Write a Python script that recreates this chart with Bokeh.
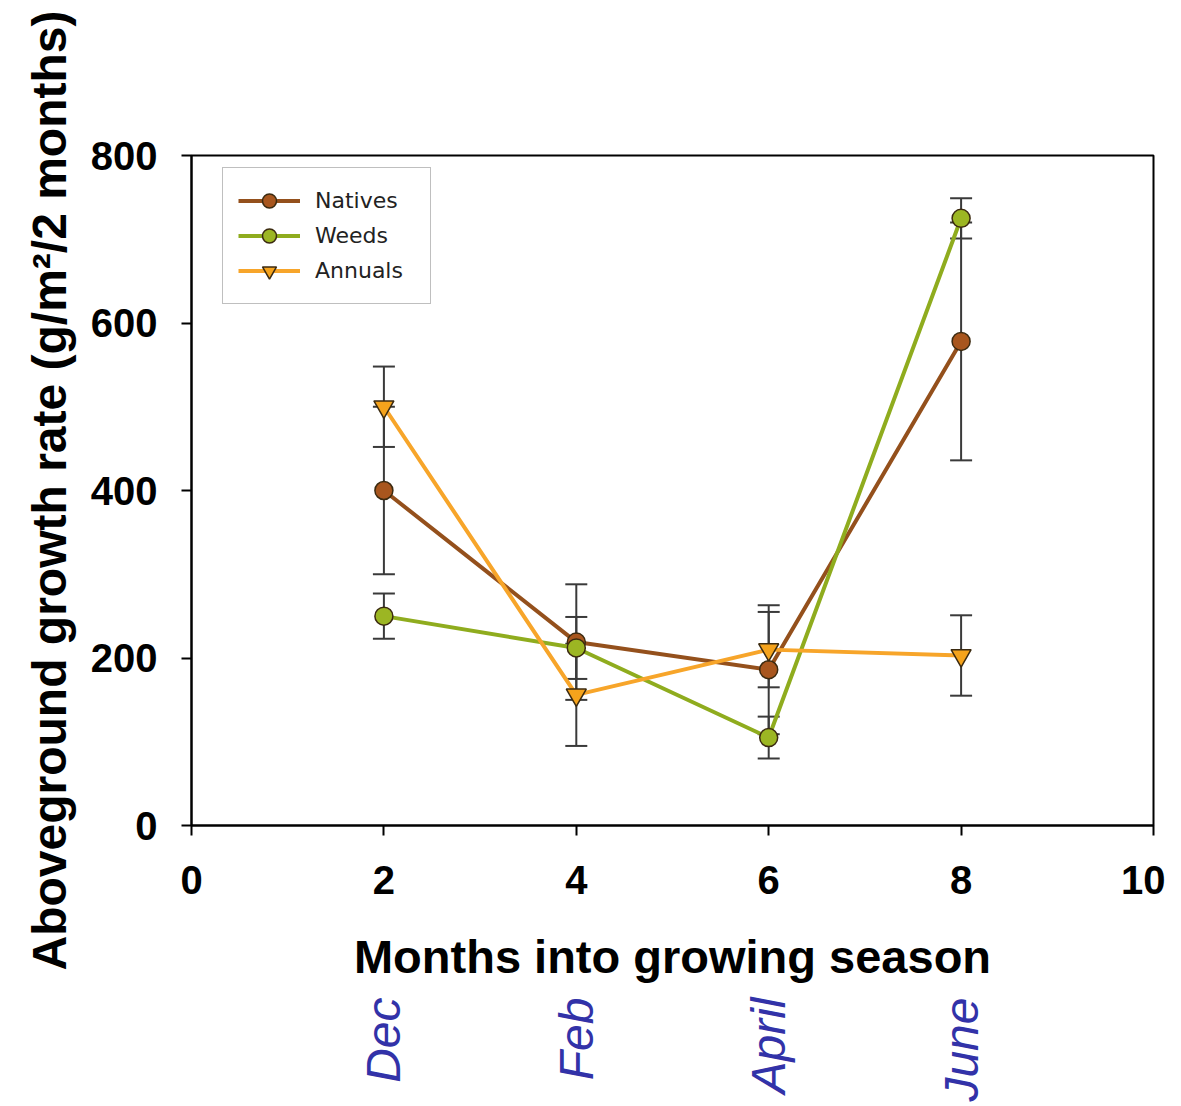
import math
from bokeh.plotting import figure
from bokeh.models import (ColumnDataSource, Whisker, TeeHead, Legend, LegendItem,
                          FixedTicker, Range1d, LinearAxis)
from bokeh.embed import file_html
from bokeh.resources import INLINE

# ---- data ----
months = [2, 4, 6, 8]
month_names = ["Dec", "Feb", "April", "June"]
natives = [400, 219, 186, 578]
natives_err = [100, 69, 77, 142]
weeds = [250, 212, 105, 725]
weeds_err = [27, 37, 25, 24]
annuals = [500, 156, 210, 203]
annuals_err = [48, 61, 45, 48]
x_ticks = [0, 2, 4, 6, 8, 10]
y_ticks = [0, 200, 400, 600, 800]

series = [
    ("Natives", natives, natives_err, "#94501c", "#a8561e", "circle", 18),
    ("Weeds", weeds, weeds_err, "#8fac1e", "#9cb623", "circle", 18),
    ("Annuals", annuals, annuals_err, "#f7a52a", "#f5a31c", "inverted_triangle", 20),
]

FONT = "Liberation Sans"

p = figure(width=1165, height=1104, output_backend="svg", toolbar_location=None,
           x_range=Range1d(0, 10), y_range=Range1d(0, 800),
           min_border_left=191, min_border_right=12, min_border_top=155,
           min_border_bottom=278)
p.background_fill_color = "white"
p.border_fill_color = "white"
p.grid.visible = False
p.outline_line_color = "black"
p.outline_line_width = 2

for ax in (p.xaxis, p.yaxis):
    ax.axis_line_width = 2
    ax.axis_line_color = "black"
    ax.major_tick_line_width = 2
    ax.major_tick_line_color = "black"
    ax.major_tick_out = 10
    ax.major_tick_in = 0
    ax.minor_tick_line_color = None
    ax.major_label_text_font = FONT
    ax.major_label_text_font_style = "bold"
    ax.major_label_text_font_size = "40px"
    ax.major_label_text_color = "black"
    ax.axis_label_text_font = FONT
    ax.axis_label_text_font_style = "bold"
    ax.axis_label_text_color = "black"

p.xaxis.ticker = FixedTicker(ticks=x_ticks)
p.yaxis.ticker = FixedTicker(ticks=y_ticks)
p.xaxis.major_label_standoff = 30
p.yaxis.major_label_standoff = 24
p.xaxis.axis_label = "Months into growing season"
p.xaxis.axis_label_text_font_size = "47px"
p.xaxis.axis_label_standoff = 33
p.yaxis.axis_label = "Aboveground growth rate (g/m\u00b2/2 months)"
p.yaxis.axis_label_text_font_size = "48px"
p.yaxis.axis_label_standoff = 12

# month names as a second, label-only axis below
month_axis = LinearAxis(ticker=FixedTicker(ticks=months),
                        major_label_overrides={m: n for m, n in zip(months, month_names)},
                        major_label_orientation=math.pi / 2)
month_axis.axis_line_color = None
month_axis.major_tick_line_color = None
month_axis.minor_tick_line_color = None
month_axis.major_tick_out = 0
month_axis.major_tick_in = 0
month_axis.major_label_standoff = 12
month_axis.major_label_text_font = FONT
month_axis.major_label_text_font_style = "italic"
month_axis.major_label_text_font_size = "48px"
month_axis.major_label_text_color = "#3232a8"
p.add_layout(month_axis, "below")

items = []
for name, vals, errs, lc, fc, marker, size in series:
    src = ColumnDataSource(dict(x=months, y=vals,
                                lo=[v - e for v, e in zip(vals, errs)],
                                hi=[v + e for v, e in zip(vals, errs)]))
    w = Whisker(base="x", lower="lo", upper="hi", source=src,
                line_color="#3a3a3a", line_width=2,
                upper_head=TeeHead(size=22, line_color="#3a3a3a", line_width=2),
                lower_head=TeeHead(size=22, line_color="#3a3a3a", line_width=2),
                level="underlay")
    p.add_layout(w)
    ln = p.line("x", "y", source=src, line_color=lc, line_width=4)
    sc = p.scatter("x", "y", source=src, marker=marker, size=size,
                   fill_color=fc, line_color="#3b2a10", line_width=1.5)
    items.append(LegendItem(label=name, renderers=[ln, sc]))

legend = Legend(items=items, location=(31, 521))
legend.label_text_font = "DejaVu Sans"
legend.label_text_font_size = "22px"
legend.label_text_color = "#222222"
legend.glyph_width = 62
legend.glyph_height = 35
legend.spacing = 0
legend.padding = 15
legend.margin = 0
legend.label_standoff = 15
legend.label_width = 100
legend.border_line_color = "#7f7f7f"
legend.border_line_width = 1.5
legend.background_fill_color = "white"
legend.background_fill_alpha = 1.0
p.add_layout(legend, "center")

open("out.html", "w").write(file_html(p, INLINE))
